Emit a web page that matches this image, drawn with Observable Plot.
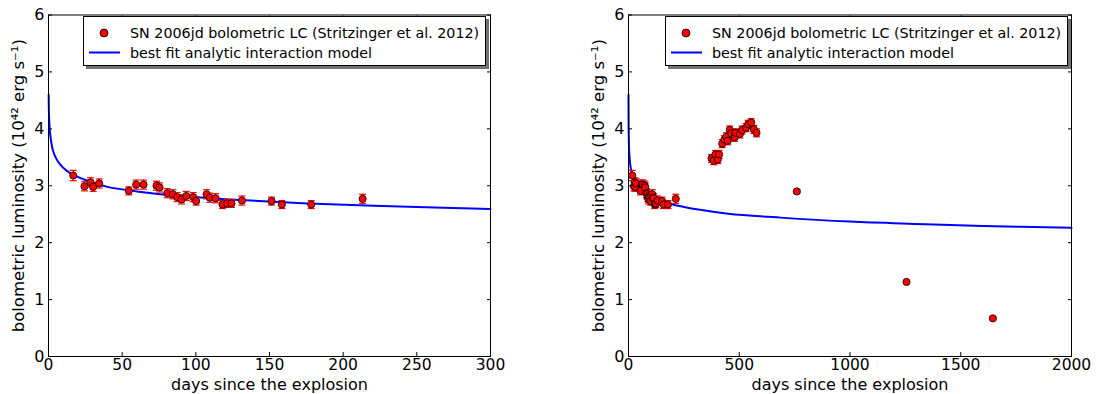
<!DOCTYPE html>
<html><head><meta charset="utf-8">
<script src="https://cdn.jsdelivr.net/npm/d3@7"></script>
<script src="https://cdn.jsdelivr.net/npm/@observablehq/plot@0.6"></script>
<style>
body{margin:0;background:#fff;}
#wrap{position:relative;width:1097px;height:394px;font-family:"DejaVu Sans",sans-serif;overflow:hidden;}
.panel{position:absolute;top:0;}
.leg{position:absolute;top:16px;width:403px;height:50px;border:1px solid #000;background:#fff;box-shadow:3px 3px 0 rgba(0,0,0,0.55);box-sizing:border-box;}
</style></head>
<body><div id="wrap"></div>
<script>
// observed bolometric light curve (days since explosion, luminosity in 1e42 erg/s, error)
const days = [16.8, 24.4, 28.5, 30.3, 34.4, 54.5, 59.5, 64.5, 73.3, 75.4, 80.6, 84.4, 87.3, 90.3, 93.5, 98.2, 100.2, 107.3, 109.5, 113.4, 118.1, 121.3, 124.2, 131.3, 151.4, 158.4, 178.3, 213.2,
  375, 385, 393, 403, 409, 423, 433, 442, 448, 457, 464, 479, 483, 503, 513, 531, 540, 554, 566, 578,
  760, 1255, 1645];
const lum = [3.18, 2.99, 3.06, 2.98, 3.04, 2.91, 3.02, 3.02, 3.00, 2.97, 2.87, 2.85, 2.80, 2.76, 2.82, 2.80, 2.73, 2.85, 2.79, 2.78, 2.67, 2.69, 2.69, 2.74, 2.73, 2.67, 2.67, 2.77,
  3.48, 3.44, 3.55, 3.46, 3.55, 3.74, 3.81, 3.86, 3.79, 3.98, 3.92, 3.85, 3.93, 3.91, 3.98, 4.02, 4.08, 4.11, 3.99, 3.93,
  2.90, 1.31, 0.67];
const err = [0.09, 0.08, 0.08, 0.08, 0.08, 0.07, 0.08, 0.08, 0.08, 0.08, 0.08, 0.08, 0.08, 0.08, 0.08, 0.08, 0.07, 0.08, 0.08, 0.08, 0.07, 0.07, 0.07, 0.08, 0.07, 0.07, 0.07, 0.08,
  0.07, 0.07, 0.07, 0.07, 0.07, 0.07, 0.07, 0.07, 0.07, 0.07, 0.07, 0.07, 0.07, 0.07, 0.07, 0.07, 0.07, 0.07, 0.07, 0.07,
  0.03, 0.02, 0.02];

// best-fit analytic interaction model
const modelDays = [0.12, 0.3, 0.7, 1.5, 3, 5, 8, 12, 17, 25, 40, 60, 85, 130, 176, 221, 300, 450, 686, 1000, 1288, 1600, 2000];
const modelLum  = [4.60, 4.30, 4.04, 3.83, 3.62, 3.49, 3.37, 3.27, 3.19, 3.10, 2.98, 2.90, 2.83, 2.75, 2.69, 2.65, 2.59, 2.51, 2.44, 2.37, 2.33, 2.295, 2.26];

const xTicksLeft = [0, 50, 100, 150, 200, 250, 300];
const xTicksRight = [0, 500, 1000, 1500, 2000];
const yTicks = [0, 1, 2, 3, 4, 5, 6];
const xLabel = "days since the explosion";
const yLabel = "bolometric luminosity (10⁴² erg s⁻¹)";
const legendLabels = ["SN 2006jd bolometric LC (Stritzinger et al. 2012)", "best fit analytic interaction model"];

const capSymbol = {draw(ctx, size) { const w = Math.sqrt(size / Math.PI); ctx.moveTo(-w, 0); ctx.lineTo(w, 0); }};
const plain = d => String(d);

function panel(xmax, xTicks, width, mL, mR) {
  const pts = days.map((d, i) => ({d, L: lum[i], lo: lum[i] - err[i], hi: lum[i] + err[i]})).filter(p => p.d <= xmax);
  const model = modelDays.map((d, i) => ({d, L: modelLum[i]})).filter(p => p.d <= xmax);
  return Plot.plot({
    width, height: 394,
    marginLeft: mL, marginRight: mR, marginTop: 14.5, marginBottom: 38,
    x: {domain: [0, xmax]},
    y: {domain: [0, 6]},
    style: {fontFamily: "DejaVu Sans", fontSize: "16px", background: "transparent", color: "black", overflow: "visible"},
    marks: [
      Plot.axisX({ticks: xTicks, tickSize: -4, tickPadding: 6, tickFormat: plain, label: null, fontSize: 15.5}),
      Plot.axisX({anchor: "top", ticks: xTicks, tickSize: -4, tickFormat: () => "", label: null}),
      Plot.axisY({ticks: yTicks, tickSize: -4, tickPadding: 8, tickFormat: plain, label: null, fontSize: 16}),
      Plot.axisY({anchor: "right", ticks: yTicks, tickSize: -4, tickFormat: () => "", label: null}),
      Plot.line(model, {x: "d", y: "L", stroke: "#0000ff", strokeWidth: 2, curve: "catmull-rom"}),
      Plot.ruleX(pts, {x: "d", y1: "lo", y2: "hi", stroke: "#ff0000", strokeWidth: 1.2}),
      Plot.dot(pts, {x: "d", y: "lo", symbol: capSymbol, r: 3.5, stroke: "#ff0000", strokeWidth: 1.2}),
      Plot.dot(pts, {x: "d", y: "hi", symbol: capSymbol, r: 3.5, stroke: "#ff0000", strokeWidth: 1.2}),
      Plot.dot(pts, {x: "d", y: "L", r: 3.6, fill: "#ff0000", stroke: "black", strokeWidth: 0.8}),
      Plot.frame({stroke: "black", strokeWidth: 1}),
      Plot.text([xLabel], {frameAnchor: "bottom", text: d => d, textAnchor: "middle", lineAnchor: "middle", dy: 28, fontSize: 16}),
      Plot.text([yLabel], {frameAnchor: "left", text: d => d, rotate: -90, textAnchor: "middle", lineAnchor: "middle", dx: -30, fontSize: 16.5})
    ]
  });
}

function legend(left) {
  const div = document.createElement("div");
  div.className = "leg";
  div.style.left = left + "px";
  const svg = d3.create("svg").attr("width", 401).attr("height", 48).style("display", "block")
    .style("font-family", "DejaVu Sans").style("font-size", "14.3px");
  svg.append("circle").attr("cx", 20).attr("cy", 16).attr("r", 4).attr("fill", "#ff0000").attr("stroke", "black").attr("stroke-width", 0.8);
  svg.append("line").attr("x1", 5).attr("x2", 36).attr("y1", 35.5).attr("y2", 35.5).attr("stroke", "#0000ff").attr("stroke-width", 2);
  svg.append("text").attr("x", 46).attr("y", 16).attr("dy", "0.35em").text(legendLabels[0]);
  svg.append("text").attr("x", 46).attr("y", 35.5).attr("dy", "0.35em").text(legendLabels[1]);
  div.appendChild(svg.node());
  return div;
}

const wrap = document.getElementById("wrap");
const left = panel(300, xTicksLeft, 548, 48, 58);
left.classList.add("panel"); left.style.left = "0px";
const right = panel(2000, xTicksRight, 549, 80, 26);
right.classList.add("panel"); right.style.left = "548px";
wrap.appendChild(left);
wrap.appendChild(right);
wrap.appendChild(legend(83));
wrap.appendChild(legend(665));
</script>
</body></html>
